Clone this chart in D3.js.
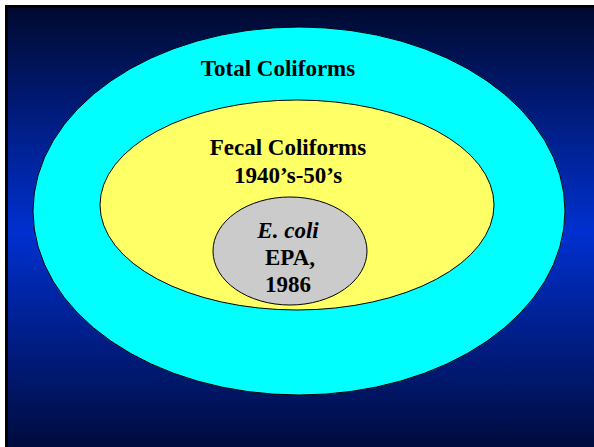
<!DOCTYPE html>
<html><head><meta charset="utf-8">
<script src="https://cdn.jsdelivr.net/npm/d3@7"></script>
<style>html,body{margin:0;padding:0;background:#fff;overflow:hidden}</style>
</head><body>
<script>
// Data
const categories = ["Total Coliforms", "Fecal Coliforms", "E. coli"];
const subLabels = [[], ["1940\u2019s-50\u2019s"], ["EPA,", "1986"]];
const fills = ["#00FFFF", "#FFFF66", "#CBCBCB"];

const W = 594, H = 447;
const svg = d3.select("body").append("svg").attr("width", W).attr("height", H);

const defs = svg.append("defs");
const grad = defs.append("linearGradient").attr("id", "bg").attr("x1", 0).attr("y1", 0).attr("x2", 0).attr("y2", 1);
[[0, "#000a30"], [0.5, "#0030d0"], [1, "#000a38"]].forEach(([o, c]) =>
  grad.append("stop").attr("offset", o).attr("stop-color", c));

svg.append("rect").attr("x", 5).attr("y", 5).attr("width", W).attr("height", H).attr("fill", "#000");
svg.append("rect").attr("x", 8).attr("y", 8).attr("width", W).attr("height", H).attr("fill", "url(#bg)");

// layout (geometry)
const geom = [
  {cx: 299, cy: 211, rx: 266, ry: 184, ty: 76},
  {cx: 297, cy: 205, rx: 197, ry: 105, ty: 155},
  {cx: 290, cy: 251, rx: 77, ry: 54, ty: 238}
];
const tx = [278, 288, 288];
const lineH = [28, 28, 27];

const g = svg.append("g");
categories.forEach((name, i) => {
  const e = geom[i];
  g.append("ellipse").attr("cx", e.cx).attr("cy", e.cy).attr("rx", e.rx).attr("ry", e.ry)
    .attr("fill", fills[i]).attr("stroke", "#000").attr("stroke-width", 1);
});
categories.forEach((name, i) => {
  const e = geom[i];
  const lines = [name].concat(subLabels[i]);
  lines.forEach((t, j) => {
    g.append("text").attr("x", tx[i] + (i === 2 && j === 1 ? 2 : 0)).attr("y", e.ty + j * lineH[i])
      .attr("text-anchor", "middle")
      .attr("font-family", "'Liberation Serif','Times New Roman',serif")
      .attr("font-weight", "bold")
      .attr("font-style", i === 2 && j === 0 ? "italic" : "normal")
      .attr("font-size", 23)
      .attr("fill", "#000")
      .text(t);
  });
});
</script>
</body></html>
